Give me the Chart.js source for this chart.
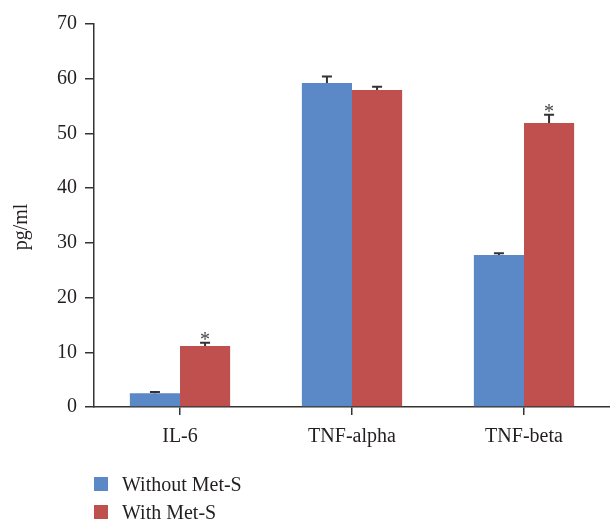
<!DOCTYPE html>
<html>
<head>
<meta charset="utf-8">
<script src="https://cdn.jsdelivr.net/npm/chart.js@4.4.1/dist/chart.umd.min.js"></script>
<style>
    body { margin: 0; background: #fff; }
    #wrap { position: relative; width: 610px; height: 523px; }
    #legend { position: absolute; left: 94px; top: 470px; font-family: "Liberation Serif", serif; font-size: 20px; color: #231f20; }
    .item { height: 28px; display: flex; align-items: center; }
    .box { width: 14px; height: 14px; margin-right: 14px; }
</style>
</head>
<body>
<div id="wrap">
    <canvas id="myChart" width="610" height="523"></canvas>
    <div id="legend"></div>
</div>
<script>
var categories = ['IL-6', 'TNF-alpha', 'TNF-beta'];
var series_names = ['Without Met-S', 'With Met-S'];
var without_mets = [2.5, 59.2, 27.8];
var with_mets = [11.15, 57.95, 51.9];
var without_err = [0.25, 1.2, 0.3];
var with_err = [0.6, 0.6, 1.5];
var with_star = [true, false, true];
var y_title = 'pg/ml';
var colors = ['rgb(91, 136, 198)', 'rgb(192, 80, 77)'];
var font_family = '"Liberation Serif", serif';
var text_color = '#231f20';

// error bars + asterisks, drawn through the scales
var errorBars = {
    id: 'errorBars',
    afterDatasetsDraw: function (chart) {
        var ctx = chart.ctx;
        var y = chart.scales.y;
        ctx.save();
        ctx.strokeStyle = '#333';
        ctx.lineWidth = 2;
        chart.data.datasets.forEach(function (ds, i) {
            var meta = chart.getDatasetMeta(i);
            meta.data.forEach(function (bar, j) {
                var top = y.getPixelForValue(ds.data[j] + ds.err[j]);
                ctx.beginPath();
                ctx.moveTo(bar.x, bar.y);
                ctx.lineTo(bar.x, top);
                ctx.moveTo(bar.x - 5, top);
                ctx.lineTo(bar.x + 5, top);
                ctx.stroke();
                if (ds.star && ds.star[j]) {
                    ctx.fillStyle = '#444';
                    ctx.font = '20px ' + font_family;
                    ctx.textAlign = 'center';
                    ctx.textBaseline = 'alphabetic';
                    ctx.fillText('*', bar.x, top + 3);
                }
            });
        });
        // y axis title
        ctx.save();
        ctx.translate(22, 227);
        ctx.rotate(-Math.PI / 2);
        ctx.fillStyle = text_color;
        ctx.font = '20px ' + font_family;
        ctx.textAlign = 'center';
        ctx.textBaseline = 'middle';
        ctx.fillText(y_title, 0, 0);
        ctx.restore();
        ctx.restore();
    }
};

var ctx = document.getElementById('myChart').getContext('2d');
var config = {
    type: 'bar',
    data: {
        labels: categories,
        datasets: [{
            label: series_names[0],
            data: without_mets,
            err: without_err,
            backgroundColor: colors[0]
        }, {
            label: series_names[1],
            data: with_mets,
            err: with_err,
            star: with_star,
            backgroundColor: colors[1]
        }]
    },
    options: {
        responsive: false,
        animation: false,
        layout: { padding: { top: 24, right: 0, left: 0, bottom: 0 } },
        plugins: {
            legend: { display: false },
            tooltip: { enabled: false }
        },
        datasets: {
            bar: { categoryPercentage: 0.583, barPercentage: 1 }
        },
        scales: {
            x: {
                grid: { display: true, drawOnChartArea: false, offset: false, tickLength: 8, color: '#333', lineWidth: 1.5 },
                border: { color: '#333', width: 1.5 },
                ticks: { padding: 10, color: text_color, font: { family: font_family, size: 20 } },
                afterFit: function (scale) { scale.height = 116; }
            },
            y: {
                min: 0,
                max: 70,
                grid: { drawOnChartArea: false, tickLength: 9, color: '#333', lineWidth: 1.5 },
                border: { color: '#333', width: 1.5 },
                ticks: { stepSize: 10, padding: 8, color: text_color, font: { family: font_family, size: 20 } },
                afterFit: function (scale) { scale.width = 94; }
            }
        }
    },
    plugins: [errorBars]
};

var chart = new Chart(ctx, config);

var legend = document.getElementById('legend');
series_names.forEach(function (name, i) {
    var item = document.createElement('div');
    item.className = 'item';
    var box = document.createElement('span');
    box.className = 'box';
    box.style.background = colors[i];
    item.appendChild(box);
    item.appendChild(document.createTextNode(name));
    legend.appendChild(item);
});
</script>
</body>
</html>
